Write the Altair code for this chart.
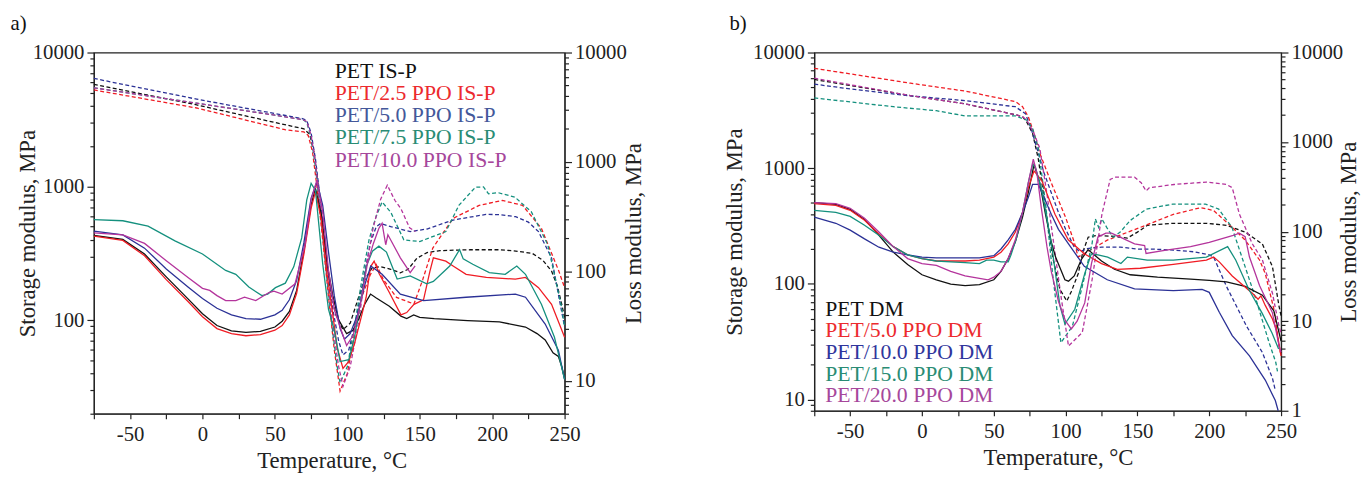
import altair as alt
import pandas as pd

FONT = "'Liberation Serif', 'Times New Roman', serif"

# ---------------- series names and colours ----------------
A_NAMES = ["PET IS-P", "PET/2.5 PPO IS-P", "PET/5.0 PPO IS-P", "PET/7.5 PPO IS-P", "PET/10.0 PPO IS-P"]
B_NAMES = ["PET DM", "PET/5.0 PPO DM", "PET/10.0 PPO DM", "PET/15.0 PPO DM", "PET/20.0 PPO DM"]
LINE_COLORS = ["#111111", "#f01c24", "#2b3196", "#14907e", "#b4349c"]
TEXT_COLORS_A = ["#111111", "#ec2a2e", "#44589a", "#2a8c74", "#a6479b"]
TEXT_COLORS_B = ["#111111", "#ec2a2e", "#30359c", "#2a8c74", "#a6479b"]

# ---------------- panel a) storage modulus (dashed, left axis) ----------------
A_STO_PET = [(-75, 5780), (-4, 4060), (50, 3000), (70, 2690), (74, 2450), (77, 1800), (80, 1000), (84, 400), (88, 180), (92, 110), (97, 85), (102, 95), (107, 140), (112, 200), (117, 245), (123, 251), (130, 240), (136.6, 226), (142, 240), (148, 290), (155, 320), (164, 331), (185, 336), (205, 336), (215, 330), (227.6, 316), (235, 280), (241, 233), (245, 180), (248, 132), (250, 105)]
A_STO_25 = [(-75, 5250), (-4, 3850), (57, 2650), (70, 2550), (73, 2400), (76, 1800), (79, 1000), (83, 400), (87, 150), (91, 60), (95, 29.5), (100, 40), (105, 80), (110, 150), (116, 220), (120, 260), (125, 200), (134, 148), (146, 132), (152, 200), (159, 346), (173, 576), (191, 721), (207, 785), (221, 721), (234, 485), (246, 233), (250, 175)]
A_STO_50 = [(-75, 6400), (-4, 4480), (50, 3500), (69.4, 3200), (72, 3100), (75, 2500), (78, 1600), (82, 700), (86, 280), (90, 120), (94, 70), (97, 55), (101, 60), (106, 100), (111, 200), (116, 380), (120, 500), (123, 528), (130, 500), (143.4, 459), (155, 480), (173, 560), (195.7, 617), (205, 615), (216.2, 593), (225, 540), (232, 459), (241, 292), (246, 150), (250, 89)]
A_STO_75 = [(-75, 5450), (-4, 4180), (50, 3400), (69.4, 3150), (72, 3000), (75, 2300), (78, 1400), (82, 550), (86, 200), (90, 80), (93, 45), (95, 34), (100, 45), (105, 90), (110, 200), (115, 400), (120, 600), (124, 764), (130, 640), (139, 398), (150, 387), (168, 459), (172, 560), (177, 721), (183, 850), (188.5, 986), (194, 990), (197.5, 880), (204.3, 896), (215.6, 832), (227, 646), (238.4, 366), (247.5, 132), (250, 89)]
A_STO_100 = [(-75, 5450), (-4, 4180), (50, 3400), (69.4, 3150), (72, 3050), (75, 2400), (78, 1500), (82, 600), (86, 220), (90, 90), (94, 45), (97, 32), (102, 45), (108, 100), (113, 250), (118, 500), (123, 800), (127.6, 1020), (133, 780), (137, 680), (143, 490), (147, 460)]

# ---------------- panel a) loss modulus (solid, right axis) ----------------
A_LOSS_PET = [(-75, 213), (-55, 196), (-40, 144), (-25, 89), (-10, 56), (0, 41), (10, 32), (20, 28.6), (30, 27.7), (40, 28.3), (50, 31), (55, 35), (60, 43), (65, 67), (70, 154), (75, 406), (78, 574), (82, 330), (86, 117), (90, 60), (94, 36), (99.5, 27), (104, 29), (108, 37), (112, 50), (116, 62), (120, 57), (129, 48), (137, 39), (141, 37), (145.8, 40), (150, 38), (160, 37), (183, 35.5), (205, 34.5), (223, 31), (231, 27), (236.6, 23.6), (242, 18), (245.7, 16.7), (248, 13.5), (250, 10.4)]
A_LOSS_25 = [(-75, 210), (-55, 192), (-40, 139), (-25, 84), (-10, 53), (0, 38.5), (10, 30), (20, 27), (30, 25.8), (40, 26.4), (50, 29), (55, 32), (60, 40), (65, 63), (70, 144), (75, 379), (78, 536), (82, 300), (86, 95), (90, 40), (93, 20), (97, 13), (101, 15), (105, 22), (110, 40), (113, 58), (116, 110), (118.5, 124), (122, 95), (129, 64), (137, 40), (141, 42), (146, 50), (152.6, 55), (157, 100), (159.4, 133), (168, 124), (173, 112), (182, 94), (196, 88), (216, 85), (223, 88), (232, 71), (241, 50), (250, 25)]
A_LOSS_50 = [(-75, 233), (-55, 215), (-40, 163), (-25, 105), (-10, 72), (0, 56.5), (10, 46), (20, 40), (30, 37), (40, 36.5), (50, 40), (55, 44), (60, 55), (65, 83), (70, 183), (75, 466), (79, 659), (83, 400), (87, 150), (91, 60), (95, 30), (98, 24), (102, 27), (107, 40), (112, 75), (116.2, 112), (124, 94), (136.6, 62), (152.6, 54), (182, 58), (216, 62), (223, 58), (236.6, 33), (245.7, 19), (250, 10.3)]
A_LOSS_75 = [(-75, 297), (-55, 290), (-37.6, 259), (-19, 190), (0, 144), (16, 102), (23, 94), (32, 72), (41, 60), (45, 62), (50.4, 71), (57.2, 78), (63, 110), (68.5, 202), (72, 450), (75, 637), (78, 550), (83, 117), (87, 45), (91, 29), (95, 15), (101, 15.6), (105, 25), (110, 62), (113, 110), (117.3, 153), (121.8, 170), (127, 150), (134.4, 85), (143.4, 91), (154.8, 77), (159.4, 81), (170.7, 112), (177.5, 158), (180, 130), (186.6, 116), (198, 97.5), (209, 94), (217, 112), (223, 94), (234, 50), (243, 25), (250, 10.3)]
A_LOSS_100 = [(-75, 225), (-55, 215), (-40, 180), (-25, 125), (-10, 88), (0, 70), (5, 67), (10, 60), (16, 54), (23, 54), (29, 58), (36.8, 54), (45.9, 64), (49.3, 66), (55, 62), (63.9, 77), (70.8, 175), (75, 450), (79, 682), (83, 350), (87, 102), (91, 45), (95, 31), (99.5, 21), (104, 26), (109, 50), (114, 120), (118, 180), (121.8, 248), (124, 275), (126.5, 175), (128, 216), (136.6, 133), (143.4, 97.5), (146.8, 112)]

# ---------------- panel b) storage modulus (dashed, left axis) ----------------
B_STO_PET = [(-75, 5850), (-8, 4240), (30, 3600), (65, 2900), (70, 2790), (73, 2500), (77, 2000), (81, 1200), (86, 450), (91, 170), (96, 90), (100.8, 71), (104, 86), (108.8, 123), (112, 189), (115.7, 253), (122, 263), (134, 257), (143, 249), (150, 280), (157, 321), (175, 334), (198, 334), (212, 321), (225, 280), (237, 221), (244, 141), (248.6, 64), (250, 53)]
B_STO_50 = [(-75, 7300), (-8, 5430), (30, 4640), (65, 3770), (70, 3400), (74, 2790), (78, 2000), (82, 1350), (90, 748), (100, 375), (106, 230), (108.7, 171), (115, 189), (129, 239), (152, 308), (175, 399), (194, 456), (203, 431), (216, 308), (225, 239), (235, 161), (239, 123), (245, 60.5), (248.6, 29), (250, 24)]
B_STO_100 = [(-75, 5330), (-50, 4840), (-8, 4220), (30, 3840), (65, 3400), (72, 2960), (76, 2200), (80, 1490), (85, 910), (90, 614), (95, 415), (100, 297), (106, 208), (110, 189), (115, 202), (125, 208), (138, 208), (150, 200), (160, 200), (175, 196), (190, 189), (200, 178), (203, 171), (212, 95), (226, 43), (237, 25.5), (244, 15.3), (246, 12)]
B_STO_150 = [(-75, 4050), (-50, 3740), (-20, 3400), (10, 3140), (30, 2830), (65, 2830), (73, 2600), (77, 2200), (81, 1490), (86, 500), (91, 120), (96.7, 31), (104.7, 43), (111.6, 95), (118.4, 222), (120.7, 364), (123, 308), (125.2, 364), (128.6, 308), (133, 253), (138, 280), (144.8, 352), (156.2, 443), (174.5, 489), (197.4, 489), (206.6, 443), (215.8, 308), (223.4, 161), (232.6, 73), (241.7, 31), (246.3, 21), (247.5, 17.5)]
B_STO_200 = [(-75, 6000), (-8, 4240), (30, 3600), (65, 2900), (70, 2790), (73, 2600), (78, 2000), (82, 1490), (87, 600), (92, 210), (97, 75), (102, 29), (111.6, 38), (118.4, 108), (125.3, 401), (131, 798), (134.4, 836), (148, 836), (152.6, 748), (156, 636), (158.3, 678), (175.5, 723), (198, 759), (212, 723), (216, 678), (221, 401), (230, 222), (237, 161), (244, 83), (248.6, 43), (250, 37)]

# ---------------- panel b) loss modulus (solid, right axis) ----------------
B_LOSS_PET = [(-75, 211), (-60, 201), (-50, 177), (-40, 137), (-30, 91), (-20, 59), (-10, 43), (0, 33), (10, 29), (20, 26), (30, 25), (40, 25.6), (50, 29), (55, 36), (60, 50), (65, 77), (70, 145), (74, 272), (78, 560), (82, 351), (86, 156), (90, 77), (93, 52), (99.5, 29), (102, 28), (106, 32), (111, 49), (115.6, 63), (125, 47), (134, 38), (145, 33), (164, 31), (187, 29.5), (200, 28.5), (212, 27.5), (225, 24.5), (237, 19.5), (245, 13), (250, 6)]
B_LOSS_50 = [(-75, 206), (-60, 196), (-50, 173), (-40, 134), (-30, 94), (-20, 68), (-10, 55), (0, 50), (10, 47), (20, 47), (30, 47), (40, 48), (50, 52), (55, 59), (60, 73), (65, 99), (70, 164), (74, 309), (78, 476), (83.5, 369), (92.6, 156), (101.8, 81), (113, 56.5), (125, 44), (136, 38), (152, 39), (175, 43), (198, 48), (203, 52), (207, 46), (216, 32), (230, 20.5), (234, 17.6), (236, 19.2), (239, 15), (244, 10.6), (247, 7.8), (250, 4.1)]
B_LOSS_100 = [(-75, 145), (-60, 124), (-50, 104), (-40, 83), (-30, 67), (-20, 59), (-10, 55), (0, 52), (10, 51), (20, 51), (30, 51), (40, 51), (50, 54), (55, 64), (60, 81), (65, 106), (70, 164), (74, 240), (77, 337), (81, 337), (85, 240), (90, 156), (95, 106), (102, 73), (113, 41), (129, 29), (148, 23), (175, 22), (195, 22.6), (200, 21), (207, 12.6), (216, 6.9), (228, 4.1), (239, 2.2), (246, 1.3), (248, 1.0)]
B_LOSS_150 = [(-75, 173), (-60, 164), (-50, 148), (-40, 118), (-30, 91), (-20, 68), (-10, 55), (0, 50), (10, 47), (20, 46), (30, 45), (40, 44), (45, 48), (50, 48), (55, 46), (60, 46), (62, 55), (66, 87), (70, 164), (74, 351), (77, 560), (79, 518), (83.5, 286), (90.4, 68), (96, 15), (99.5, 9.3), (106.4, 13.6), (113.3, 34), (117.9, 56.5), (122.5, 55), (129.3, 52), (138.5, 44), (143, 52), (156.8, 48), (175, 48), (198, 52), (212.8, 68), (218.5, 48), (227.6, 22.6), (236.8, 12.3), (243.7, 7.4), (248.3, 4.9)]
B_LOSS_200 = [(-75, 211), (-60, 206), (-50, 182), (-40, 141), (-30, 99), (-20, 68), (-10, 50), (0, 44), (10, 42), (20, 36), (30, 32), (40, 30), (46, 29), (50, 31), (55, 36), (60, 50), (65, 81), (70, 164), (74, 351), (77.5, 646), (80, 453), (83, 188), (87, 68), (90, 36), (95, 16.7), (100, 10), (104, 8.2), (108, 10), (113.3, 16), (118, 44), (122.5, 87), (128, 96), (132, 96), (148, 73), (155, 70), (156, 57), (170, 62), (187, 68), (200, 76), (216.7, 91), (221, 96), (225, 88), (228, 52), (235, 25), (244, 12.4), (248.6, 5.3), (250, 4.5)]

A_STO = [A_STO_PET, A_STO_25, A_STO_50, A_STO_75, A_STO_100]
A_LOSS = [A_LOSS_PET, A_LOSS_25, A_LOSS_50, A_LOSS_75, A_LOSS_100]
B_STO = [B_STO_PET, B_STO_50, B_STO_100, B_STO_150, B_STO_200]
B_LOSS = [B_LOSS_PET, B_LOSS_50, B_LOSS_100, B_LOSS_150, B_LOSS_200]

TEMP_TICKS = list(range(-75, 251, 25))


def to_frame(names, series):
    rows = []
    for name, col, pts in zip(names, LINE_COLORS, series):
        for i, (t, v) in enumerate(pts):
            rows.append({"series": name, "col": col, "T": t, "E": v, "i": i})
    return pd.DataFrame(rows)


def log_tick_values(lo, hi):
    vals = []
    for d in [1, 10, 100, 1000]:
        for m in range(1, 10):
            v = m * d
            if lo <= v <= hi:
                vals.append(v)
    if hi >= 10000:
        vals.append(10000)
    return vals


MAJOR_TEST = "indexof([1,10,100,1000,10000], datum.value) >= 0"


def y_axis(orient, title, lo, hi, title_x, title_y):
    return alt.Axis(
        orient=orient,
        values=log_tick_values(lo, hi),
        labelExpr=MAJOR_TEST + " ? '' + datum.value : ''",
        tickSize={"condition": {"test": MAJOR_TEST, "value": 7}, "value": 4},
        labelPadding=3,
        labelOverlap=False,
        labelFlush=False,
        grid=False,
        title=title,
        titleAngle=270,
        titleAlign="center",
        titleBaseline="middle",
        titleX=title_x,
        titleY=title_y,
    )


def panel(label, names, text_colors, sto, loss, left_dom, right_dom, w, h,
          left_tx, right_tx, x_tx, leg_x, leg_y0, leg_dy, title_dx):
    sto_df = to_frame(names, sto)
    loss_df = to_frame(names, loss)
    leg_df = pd.DataFrame({
        "name": names,
        "tcol": text_colors,
        "ly": [leg_y0 + k * leg_dy for k in range(len(names))],
    })
    xenc = alt.X(
        "T:Q",
        scale=alt.Scale(domain=[-75, 250], nice=False, zero=False),
        axis=alt.Axis(
            values=TEMP_TICKS,
            labelExpr="datum.value % 50 == 0 ? '' + datum.value : ''",
            tickSize=5,
            labelPadding=5,
            labelOverlap=False,
            labelFlush=False,
            grid=False,
            title="Temperature, °C",
            titleAlign="center",
            titleBaseline="middle",
            titleX=x_tx,
            titleY=47,
        ),
    )
    sto_layer = alt.Chart(sto_df).mark_line(strokeDash=[4, 2.5], strokeWidth=1.3).encode(
        x=xenc,
        y=alt.Y("E:Q", scale=alt.Scale(type="log", domain=left_dom, nice=False),
                axis=y_axis("left", "Storage modulus,  MPa", left_dom[0], left_dom[1], left_tx, h / 2)),
        color=alt.Color("col:N", scale=None),
        detail="series:N",
        order="i:Q",
    )
    loss_layer = alt.Chart(loss_df).mark_line(strokeWidth=1.3).encode(
        x=xenc,
        y=alt.Y("E:Q", scale=alt.Scale(type="log", domain=right_dom, nice=False),
                axis=y_axis("right", "Loss modulus, MPa", right_dom[0], right_dom[1], right_tx, h / 2)),
        color=alt.Color("col:N", scale=None),
        detail="series:N",
        order="i:Q",
    )
    leg_layer = alt.Chart(leg_df).mark_text(align="left", baseline="middle", font=FONT, fontSize=22).encode(
        x=alt.value(leg_x),
        y=alt.Y("ly:Q", scale=None, axis=None),
        text="name:N",
        color=alt.Color("tcol:N", scale=None),
    )
    return alt.layer(sto_layer, loss_layer, leg_layer).resolve_scale(y="independent").properties(
        width=w,
        height=h,
        title=alt.TitleParams(label, anchor="start", frame="bounds", font=FONT, fontSize=21,
                              fontWeight="normal", color="#111111", offset=8, dx=title_dx),
    )


chart_a = panel("a)", A_NAMES, TEXT_COLORS_A, A_STO, A_LOSS, [20, 10000], [5, 10000], 477, 366,
                -67.5, 70, 241, 244, 19, 22.4, -6)
chart_b = panel("b)", B_NAMES, TEXT_COLORS_B, B_STO, B_LOSS, [8, 10000], [1, 10000], 473, 363,
                -81, 68, 247, 11, 259.5, 22, 6)

chart = alt.hconcat(chart_a, chart_b, spacing=77).configure_view(
    stroke="#222222", strokeWidth=1.2
).configure_axis(
    domainColor="#222222", tickColor="#222222", labelColor="#222222", titleColor="#222222",
    labelFont=FONT, titleFont=FONT, labelFontSize=21, titleFontSize=23, titleFontWeight="normal",
    domainWidth=1.2, tickWidth=1.2,
).properties(
    padding={"left": 1, "top": 1, "right": 0, "bottom": 0},
    background="white",
)

chart.save("out.html", embed_options={"renderer": "svg", "actions": False})
